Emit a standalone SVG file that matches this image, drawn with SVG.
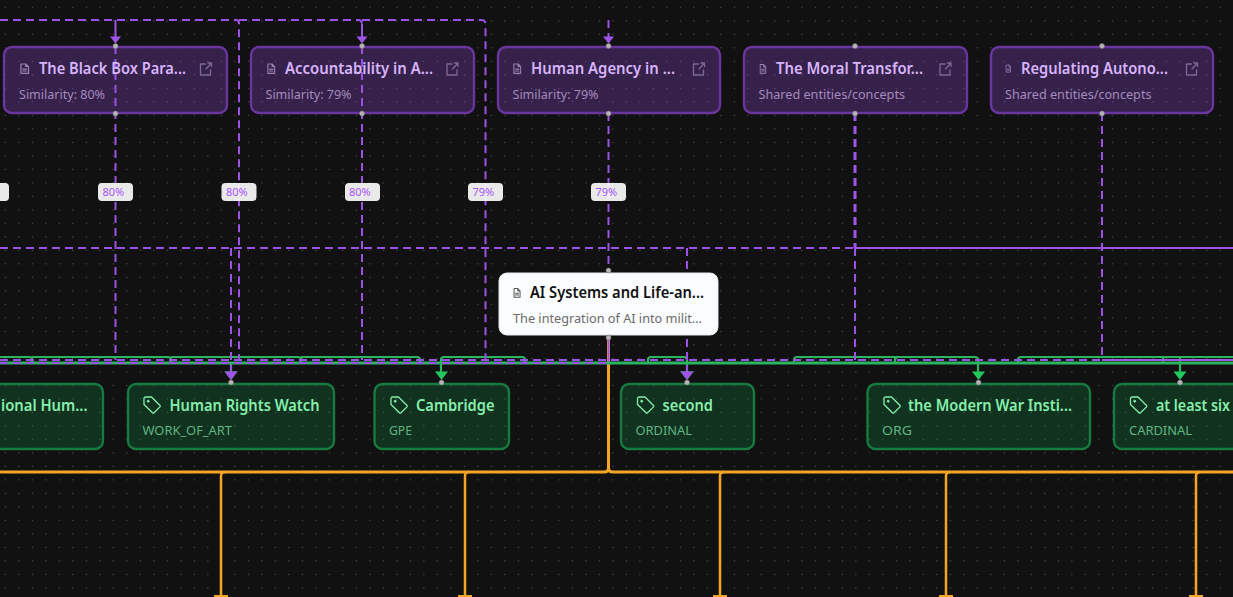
<svg xmlns="http://www.w3.org/2000/svg" width="1233" height="597" viewBox="0 0 1233 597">
<style>
text{font-family:"Noto Sans","Open Sans","Liberation Sans",sans-serif}
.pd{fill:none;stroke:#9c52e6;stroke-width:2;stroke-dasharray:8 5}
.pt{fill:none;stroke:#a055ea;stroke-width:3;stroke-dasharray:8 5}
.ps{fill:none;stroke:#a055ea;stroke-width:2}
.g{fill:none;stroke:#2bb55e;stroke-width:2.2}
.gt{fill:none;stroke:#2bb55e;stroke-width:3}
.o{fill:none;stroke:#f5a524;stroke-width:2.5}
.ot{fill:none;stroke:#f5a524;stroke-width:3}
.doc{fill:rgba(150,79,227,.27);stroke:#6b35a0;stroke-width:2.4}
.ent{fill:rgba(16,185,90,.2);stroke:#177a40;stroke-width:2.4}
.h{fill:#b5b5b5;stroke:#777;stroke-width:.5}
.t1{font-size:16px;font-weight:600;fill:#d8b4fe}
.s1{font-size:13px;fill:#a58bbf}
.t2{font-size:16px;font-weight:600;fill:#86efac}
.s2{font-size:13px;fill:#62b583}
.lb{fill:rgba(255,255,255,.91)}
.lt{font-size:11px;fill:#a855f7}
.ic{fill:none;stroke-width:1.3;stroke-linecap:round;stroke-linejoin:round}
</style>
<defs>
<pattern id="dots" width="13.5" height="13.5" patternUnits="userSpaceOnUse" x="4.8" y="6.8">
<circle cx="0.6" cy="0.6" r="0.6" fill="#666"/>
</pattern>
<g id="file"><path d="M1 0H6L9 3V11H1Z M6 0V3H9 M3 6H7 M3 8.2H7" class="ic"/></g>
<g id="ext"><path d="M6 2H1V13H11V8 M6.500 7L12 1 M8.500 1H12V4.500" class="ic"/></g>
<g id="tag"><path d="M1 2.6 Q1 1 2.6 1H8.5L17 9.5 Q17.6 10.2 17 10.9L11 16.8 Q10.2 17.5 9.5 16.8L1 8.5Z" class="ic"/><circle cx="5.2" cy="5.2" r="1" fill="currentColor"/></g>
<path id="ap" d="M-5.5 0H5.5L0 7Z" fill="#a055ea"/>
<path id="ab" d="M-6.5 0H6.5L0 8.500Z" fill="#a055ea"/>
<path id="ag" d="M-6.5 0H6.5L0 8.500Z" fill="#22c55e"/>
</defs>
<rect width="1233" height="597" fill="#111111"/>
<rect width="1233" height="597" fill="url(#dots)"/>

<g id="connectors">
<path class="ot" d="M0 472H604Q608.5 472 608.5 468 Q608.5 472 613 472H1233"/>
<path class="ot" d="M608.5 337V468"/>
<path class="o" d="M221 596V476Q221 472 225 472 M465 596V476Q465 472 469 472 M720 596V476Q720 472 724 472 M946 596V476Q946 472 950 472 M1196 596V476Q1196 472 1200 472"/>
<path class="ot" d="M214 596.5H228 M458 596.5H472 M713 596.5H727 M939 596.5H953 M1189 596.5H1203"/>

<path class="gt" d="M0 363H1233"/>
<path class="g" d="M0 357H30Q32 357 32 360V363 M32 357H168Q171 357 171 360V363 M171 357H298Q301 357 301 360V363 M301 357H417Q420 357 420 360V363"/>
<path class="g" d="M441 363V360Q441 357 444 357H522Q525 357 525 360V363"/>
<path class="g" d="M648 363V360Q648 357 651 357H684Q687 357 687 360V372"/>
<path class="g" d="M794 363V360Q794 357 797 357H975Q978 357 978 360V372 M895 363V360Q895 357 898 357"/>
<path class="g" d="M1018 363V360Q1018 357 1021 357H1233 M1163 357V363"/>
<path class="g" d="M1180 357V372 M441 363V372 M231 363V372"/>

<path class="pd" d="M0 20H236Q239 20 239 23V360"/>
<path class="pd" d="M239 20H358Q362 20 362 24V38"/>
<path class="pd" d="M362 20H481Q485.5 20 485.5 24V360"/>
<path class="ps" d="M115.5 20V38 M362 24V38"/>
<path class="pd" d="M608.5 20V38"/>
<path class="pd" d="M115.5 46V360"/>
<path class="pd" d="M362 46V360"/>
<path class="pd" d="M608.5 113V270"/>
<path class="pd" d="M0 248H855"/>
<path class="ps" d="M855 248H1233"/>
<path class="pd" d="M231 248V372"/>
<path class="pd" d="M687 248V372"/>
<path class="pt" d="M855 113V248"/>
<path class="pd" d="M855 248V360"/>
<path class="pd" d="M1102 113V360"/>
<path class="pd" d="M0 360H1102"/>
<path class="ps" d="M1102 360H1233"/>
<path class="pd" d="M0 363H608"/>
<path class="ps" d="M608.5 337V362"/>

<use href="#ap" x="115.5" y="36.500"/>
<use href="#ap" x="362" y="36.500"/>
<use href="#ap" x="608.5" y="36.500"/>
<use href="#ag" x="231" y="371.500"/>
<use href="#ab" x="231" y="371.500"/>
<use href="#ag" x="441.5" y="371.500"/>
<use href="#ag" x="687" y="371.500"/>
<use href="#ab" x="687" y="371.500"/>
<use href="#ag" x="978.5" y="371.500"/>
<use href="#ag" x="1180" y="371.500"/>

<g id="edge-labels">
<rect class="lb" x="-20" y="183" width="29" height="18" rx="4"/>
<rect class="lb" x="98" y="183" width="35" height="18" rx="4"/><text class="lt" x="102.5" y="195.5">80%</text>
<rect class="lb" x="221.500" y="183" width="35" height="18" rx="4"/><text class="lt" x="226" y="195.5">80%</text>
<rect class="lb" x="345" y="183" width="35" height="18" rx="4"/><text class="lt" x="349" y="195.5">80%</text>
<rect class="lb" x="468" y="183" width="35" height="18" rx="4"/><text class="lt" x="472.500" y="195.5">79%</text>
<rect class="lb" x="591" y="183" width="35" height="18" rx="4"/><text class="lt" x="595.500" y="195.5">79%</text>
</g>
</g>

<g id="node-black-box">
<rect class="doc" x="4" y="47" width="223" height="66" rx="8"/>
<use href="#file" transform="translate(20 64) scale(.95 .85)" style="stroke:#9a82b3"/>
<text class="t1" x="39" y="74" textLength="147" lengthAdjust="spacingAndGlyphs">The Black Box Para...</text>
<use href="#ext" x="199.500" y="62" style="stroke:#7d6a96"/>
<text class="s1" x="19" y="99" textLength="86" lengthAdjust="spacingAndGlyphs">Similarity: 80%</text>
<circle class="h" cx="115.500" cy="46" r="2.5"/><circle class="h" cx="115.500" cy="113.500" r="2.5"/>
</g>
<g id="node-accountability">
<rect class="doc" x="251" y="47" width="223" height="66" rx="8"/>
<use href="#file" transform="translate(267 64) scale(.85 .85)" style="stroke:#9a82b3"/>
<text class="t1" x="285" y="74" textLength="148" lengthAdjust="spacingAndGlyphs">Accountability in A...</text>
<use href="#ext" x="446" y="62" style="stroke:#7d6a96"/>
<text class="s1" x="265.500" y="99" textLength="86" lengthAdjust="spacingAndGlyphs">Similarity: 79%</text>
<circle class="h" cx="362" cy="46" r="2.5"/><circle class="h" cx="362" cy="113.500" r="2.5"/>
</g>
<g id="node-human-agency">
<rect class="doc" x="498" y="47" width="222" height="66" rx="8"/>
<use href="#file" transform="translate(513 64) scale(.85 .85)" style="stroke:#9a82b3"/>
<text class="t1" x="531" y="74" textLength="144" lengthAdjust="spacingAndGlyphs">Human Agency in ...</text>
<use href="#ext" x="692.500" y="62" style="stroke:#7d6a96"/>
<text class="s1" x="512.500" y="99" textLength="86" lengthAdjust="spacingAndGlyphs">Similarity: 79%</text>
<circle class="h" cx="608.500" cy="46" r="2.5"/><circle class="h" cx="608.500" cy="113.500" r="2.5"/>
</g>
<g id="node-moral">
<rect class="doc" x="744" y="47" width="223" height="66" rx="8"/>
<use href="#file" transform="translate(759.500 64.500) scale(.7 .8)" style="stroke:#9a82b3"/>
<text class="t1" x="776" y="74" textLength="147" lengthAdjust="spacingAndGlyphs">The Moral Transfor...</text>
<use href="#ext" x="939" y="62" style="stroke:#7d6a96"/>
<text class="s1" x="758.500" y="99" textLength="146.500" lengthAdjust="spacingAndGlyphs">Shared entities/concepts</text>
<circle class="h" cx="855" cy="46" r="2.5"/><circle class="h" cx="855" cy="113.500" r="2.5"/>
</g>
<g id="node-regulating">
<rect class="doc" x="991" y="47" width="222" height="66" rx="8"/>
<use href="#file" transform="translate(1006 65) scale(.5 .65)" style="stroke:#9a82b3"/>
<text class="t1" x="1021" y="74" textLength="147" lengthAdjust="spacingAndGlyphs">Regulating Autono...</text>
<use href="#ext" x="1185.500" y="62" style="stroke:#7d6a96"/>
<text class="s1" x="1005" y="99" textLength="146.500" lengthAdjust="spacingAndGlyphs">Shared entities/concepts</text>
<circle class="h" cx="1102" cy="46" r="2.5"/><circle class="h" cx="1102" cy="113.500" r="2.5"/>
</g>

<g id="node-ai-systems">
<rect x="499" y="273" width="219" height="62" rx="8" fill="#fbfcfd" stroke="#e5e7eb"/>
<use href="#file" transform="translate(513.300 288.500) scale(.75 .8)" style="stroke:#555"/>
<text x="530" y="298" font-size="16" font-weight="600" fill="#111" textLength="174" lengthAdjust="spacingAndGlyphs">AI Systems and Life-an...</text>
<text x="513" y="323" font-size="13" fill="#6b6b6b" textLength="189" lengthAdjust="spacingAndGlyphs">The integration of AI into milit...</text>
<circle class="h" cx="608.500" cy="270.500" r="2.5"/><circle class="h" cx="608.500" cy="337.500" r="2.5"/>
</g>

<g id="node-humanitarian">
<rect class="ent" x="-60" y="384" width="163" height="65" rx="8"/>
<text class="t2" x="1" y="411" textLength="86.500" lengthAdjust="spacingAndGlyphs">ional Hum...</text>
</g>
<g id="node-hrw" color="#86efac">
<rect class="ent" x="128" y="384" width="206" height="65" rx="8"/>
<use href="#tag" x="143" y="396" style="stroke:#86efac"/>
<text class="t2" x="169.500" y="411" textLength="150" lengthAdjust="spacingAndGlyphs">Human Rights Watch</text>
<text class="s2" x="142.500" y="435" textLength="89.500" lengthAdjust="spacingAndGlyphs">WORK_OF_ART</text>
<circle class="h" cx="231" cy="382.500" r="2.5"/>
</g>
<g id="node-cambridge" color="#86efac">
<rect class="ent" x="374.500" y="384" width="134.500" height="65" rx="8"/>
<use href="#tag" x="390" y="396" style="stroke:#86efac"/>
<text class="t2" x="416" y="411" textLength="78.500" lengthAdjust="spacingAndGlyphs">Cambridge</text>
<text class="s2" x="389" y="435" textLength="23" lengthAdjust="spacingAndGlyphs">GPE</text>
<circle class="h" cx="441.500" cy="382.500" r="2.5"/>
</g>
<g id="node-second" color="#86efac">
<rect class="ent" x="621" y="384" width="133" height="65" rx="8"/>
<use href="#tag" x="636.500" y="396" style="stroke:#86efac"/>
<text class="t2" x="662.500" y="411" textLength="50.500" lengthAdjust="spacingAndGlyphs">second</text>
<text class="s2" x="635.500" y="435" textLength="56.500" lengthAdjust="spacingAndGlyphs">ORDINAL</text>
<circle class="h" cx="687" cy="382.500" r="2.5"/>
</g>
<g id="node-modern-war" color="#86efac">
<rect class="ent" x="867.500" y="384" width="222.500" height="65" rx="8"/>
<use href="#tag" x="883" y="396" style="stroke:#86efac"/>
<text class="t2" x="908" y="411" textLength="164" lengthAdjust="spacingAndGlyphs">the Modern War Insti...</text>
<text class="s2" x="882" y="435" textLength="30" lengthAdjust="spacingAndGlyphs">ORG</text>
<circle class="h" cx="978.500" cy="382.500" r="2.5"/>
</g>
<g id="node-at-least-six" color="#86efac">
<rect class="ent" x="1114" y="384" width="140" height="65" rx="8"/>
<use href="#tag" x="1129.500" y="396" style="stroke:#86efac"/>
<text class="t2" x="1156" y="411" textLength="74" lengthAdjust="spacingAndGlyphs">at least six</text>
<text class="s2" x="1129" y="435" textLength="63" lengthAdjust="spacingAndGlyphs">CARDINAL</text>
<circle class="h" cx="1180" cy="382.500" r="2.5"/>
</g>
</svg>
